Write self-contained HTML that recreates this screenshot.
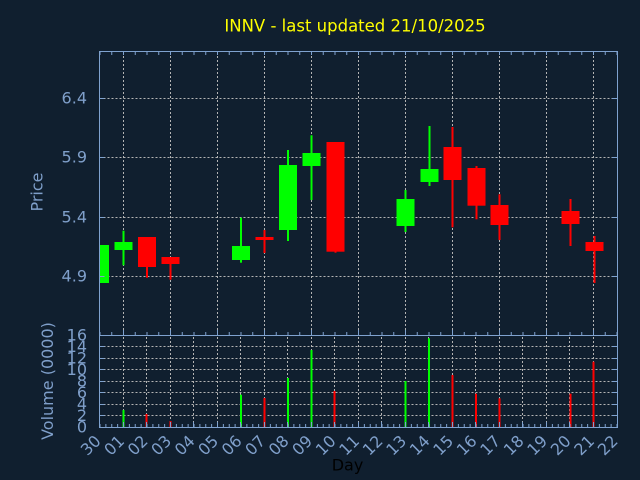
<!DOCTYPE html>
<html>
<head>
<meta charset="utf-8">
<style>
html,body{margin:0;padding:0;background:#101f2f;}
svg{display:block;}
text{font-family:"DejaVu Sans","Liberation Sans",sans-serif;}
</style>
</head>
<body>
<svg width="640" height="480" viewBox="0 0 640 480" xmlns="http://www.w3.org/2000/svg">
<rect x="0" y="0" width="640" height="480" fill="#101f2f"/>
<defs>
<clipPath id="pc"><rect x="99.5" y="51.5" width="518" height="284"/></clipPath>
</defs>

<!-- Title -->
<text x="355" y="31.5" font-size="16.5" fill="#ffff00" text-anchor="middle">INNV - last updated 21/10/2025</text>

<!-- Price grid -->
<g stroke="#b4b4b4" stroke-width="1" stroke-dasharray="2 2" fill="none">
<path d="M99.5 98.5H617M99.5 157.5H617M99.5 217.5H617M99.5 276.5H617"/>
<path d="M123.5 52V335M170.5 52V335M217.5 52V335M264.5 52V335M311.5 52V335M358.5 52V335M405.5 52V335M452.5 52V335M499.5 52V335M546.5 52V335M593.5 52V335"/>
</g>

<!-- Volume grid -->
<g stroke="#b4b4b4" stroke-width="1" stroke-dasharray="2 2" fill="none">
<path d="M99.5 346.5H617M99.5 358.5H617M99.5 369.5H617M99.5 381.5H617M99.5 392.5H617M99.5 404.5H617M99.5 415.5H617"/>
<path d="M123.5 337V427M146.5 337V427M170.5 337V427M193.5 337V427M217.5 337V427M240.5 337V427M264.5 337V427M287.5 337V427M311.5 337V427M334.5 337V427M358.5 337V427M381.5 337V427M405.5 337V427M428.5 337V427M452.5 337V427M475.5 337V427M499.5 337V427M522.5 337V427M546.5 337V427M569.5 337V427M593.5 337V427"/>
</g>

<!-- Candles -->
<g clip-path="url(#pc)">
<!-- 30 G -->
<rect x="91" y="245" width="18" height="38" fill="#00ff00"/>
<!-- 01 G -->
<rect x="122.5" y="230.7" width="2" height="34.6" fill="#00ff00"/>
<rect x="114.5" y="242" width="18" height="8" fill="#00ff00"/>
<!-- 02 R -->
<rect x="146" y="237" width="2" height="40.7" fill="#ff0000"/>
<rect x="138" y="237" width="18" height="30" fill="#ff0000"/>
<!-- 03 R -->
<rect x="169.5" y="257" width="2" height="22.7" fill="#ff0000"/>
<rect x="161.5" y="257" width="18" height="7" fill="#ff0000"/>
<!-- 06 G -->
<rect x="240" y="217.7" width="2" height="45" fill="#00ff00"/>
<rect x="232" y="246" width="18" height="14" fill="#00ff00"/>
<!-- 07 R -->
<rect x="263.5" y="230" width="2" height="23" fill="#ff0000"/>
<rect x="255.5" y="237" width="18" height="3" fill="#ff0000"/>
<!-- 08 G -->
<rect x="287" y="150" width="2" height="91" fill="#00ff00"/>
<rect x="279" y="165" width="18" height="65" fill="#00ff00"/>
<!-- 09 G -->
<rect x="310.5" y="135.3" width="2" height="64.7" fill="#00ff00"/>
<rect x="302.5" y="153" width="18" height="13" fill="#00ff00"/>
<!-- 10 R -->
<rect x="334.5" y="142" width="2" height="110.7" fill="#ff0000"/>
<rect x="326.5" y="142" width="18" height="109.7" fill="#ff0000"/>
<!-- 13 G -->
<rect x="404.5" y="190" width="2" height="42" fill="#00ff00"/>
<rect x="396.5" y="199" width="18" height="27" fill="#00ff00"/>
<!-- 14 G -->
<rect x="428.5" y="126" width="2" height="60" fill="#00ff00"/>
<rect x="420.5" y="169" width="18" height="13" fill="#00ff00"/>
<!-- 15 R -->
<rect x="451.5" y="127" width="2" height="100.3" fill="#ff0000"/>
<rect x="443.5" y="147" width="18" height="33" fill="#ff0000"/>
<!-- 16 R -->
<rect x="475.5" y="166" width="2" height="53.3" fill="#ff0000"/>
<rect x="467.5" y="168" width="18" height="37.7" fill="#ff0000"/>
<!-- 17 R -->
<rect x="498.5" y="194.3" width="2" height="45.7" fill="#ff0000"/>
<rect x="490.5" y="205" width="18" height="20" fill="#ff0000"/>
<!-- 20 R -->
<rect x="569.5" y="199" width="2" height="47" fill="#ff0000"/>
<rect x="561.5" y="211" width="18" height="13" fill="#ff0000"/>
<!-- 21 R -->
<rect x="593.5" y="236" width="2" height="47" fill="#ff0000"/>
<rect x="585.5" y="242" width="18" height="9" fill="#ff0000"/>
</g>

<!-- Volume bars -->
<g>
<rect x="122.5" y="410" width="2" height="17.3" fill="#00ff00"/>
<rect x="145.5" y="414" width="2" height="13.3" fill="#ff0000"/>
<rect x="169.5" y="421" width="2" height="6.3" fill="#ff0000"/>
<rect x="240" y="394.7" width="2" height="32.6" fill="#00ff00"/>
<rect x="263.5" y="398" width="2" height="29.3" fill="#ff0000"/>
<rect x="287" y="378" width="2" height="49.3" fill="#00ff00"/>
<rect x="310.5" y="350" width="2" height="77.3" fill="#00ff00"/>
<rect x="333.5" y="391" width="2" height="36.3" fill="#ff0000"/>
<rect x="404.5" y="381" width="2" height="46.3" fill="#00ff00"/>
<rect x="428" y="338.3" width="2" height="89" fill="#00ff00"/>
<rect x="451.5" y="375" width="2" height="52.3" fill="#ff0000"/>
<rect x="475" y="393.7" width="2" height="33.6" fill="#ff0000"/>
<rect x="498.5" y="398.3" width="2" height="29" fill="#ff0000"/>
<rect x="569.5" y="393.7" width="2" height="33.6" fill="#ff0000"/>
<rect x="592.5" y="361.7" width="2" height="65.6" fill="#ff0000"/>
</g>

<!-- Axes frames -->
<g stroke="#7fa2cf" stroke-width="1" fill="none">
<rect x="99.5" y="51.5" width="518" height="284"/>
<rect x="99.5" y="335.5" width="518" height="92"/>
<!-- price top ticks -->
<line x1="99.5" y1="53.5" x2="617" y2="53.5" stroke-width="3" stroke-dasharray="1 10.75"/>
<!-- price bottom ticks -->
<line x1="99.5" y1="333.5" x2="617" y2="333.5" stroke-width="3" stroke-dasharray="1 10.75"/>
<path d="M123.5 330V335M170.5 330V335M217.5 330V335M264.5 330V335M311.5 330V335M358.5 330V335M405.5 330V335M452.5 330V335M499.5 330V335M546.5 330V335M593.5 330V335"/>
<!-- price left/right ticks -->
<path d="M99.5 98.5h5M99.5 157.5h5M99.5 217.5h5M99.5 276.5h5M617 98.5h-5M617 157.5h-5M617 217.5h-5M617 276.5h-5"/>
<!-- volume left/right ticks -->
<path d="M99.5 346.5h5M99.5 358.5h5M99.5 369.5h5M99.5 381.5h5M99.5 392.5h5M99.5 404.5h5M99.5 415.5h5M617 346.5h-5M617 358.5h-5M617 369.5h-5M617 381.5h-5M617 392.5h-5M617 404.5h-5M617 415.5h-5"/>
<!-- volume bottom ticks -->
<line x1="99.5" y1="425.5" x2="617" y2="425.5" stroke-width="3" stroke-dasharray="1 4.875"/>
<path d="M123.5 422V427M146.5 422V427M170.5 422V427M193.5 422V427M217.5 422V427M240.5 422V427M264.5 422V427M287.5 422V427M311.5 422V427M334.5 422V427M358.5 422V427M381.5 422V427M405.5 422V427M428.5 422V427M452.5 422V427M475.5 422V427M499.5 422V427M522.5 422V427M546.5 422V427M569.5 422V427M593.5 422V427"/>
</g>

<!-- Price tick labels -->
<g font-size="16" fill="#7f9fca" text-anchor="end">
<text x="87" y="103.5">6.4</text>
<text x="87" y="162.5">5.9</text>
<text x="87" y="222.5">5.4</text>
<text x="87" y="281.5">4.9</text>
</g>

<!-- Volume tick labels -->
<g font-size="16" fill="#7f9fca" text-anchor="end">
<text x="87" y="340.5">16</text>
<text x="87" y="352">14</text>
<text x="87" y="363.5">12</text>
<text x="87" y="375">10</text>
<text x="87" y="386.5">8</text>
<text x="87" y="398">6</text>
<text x="87" y="409.5">4</text>
<text x="87" y="421">2</text>
<text x="87" y="432.5">0</text>
</g>

<!-- Axis titles -->
<text transform="translate(42.5,192) rotate(-90)" font-size="16" fill="#7f9fca" text-anchor="middle">Price</text>
<text transform="translate(53,381) rotate(-90)" font-size="16" fill="#7f9fca" text-anchor="middle">Volume (0000)</text>
<text x="347.5" y="470.5" font-size="16" fill="#000000" text-anchor="middle">Day</text>

<!-- X labels -->
<g font-size="16" fill="#7f9fca" text-anchor="end">
<text transform="translate(101.8,442) rotate(-45)">30</text>
<text transform="translate(125.3,442) rotate(-45)">01</text>
<text transform="translate(148.8,442) rotate(-45)">02</text>
<text transform="translate(172.3,442) rotate(-45)">03</text>
<text transform="translate(195.8,442) rotate(-45)">04</text>
<text transform="translate(219.3,442) rotate(-45)">05</text>
<text transform="translate(242.8,442) rotate(-45)">06</text>
<text transform="translate(266.3,442) rotate(-45)">07</text>
<text transform="translate(289.8,442) rotate(-45)">08</text>
<text transform="translate(313.3,442) rotate(-45)">09</text>
<text transform="translate(336.8,442) rotate(-45)">10</text>
<text transform="translate(360.3,442) rotate(-45)">11</text>
<text transform="translate(383.8,442) rotate(-45)">12</text>
<text transform="translate(407.3,442) rotate(-45)">13</text>
<text transform="translate(430.8,442) rotate(-45)">14</text>
<text transform="translate(454.3,442) rotate(-45)">15</text>
<text transform="translate(477.8,442) rotate(-45)">16</text>
<text transform="translate(501.3,442) rotate(-45)">17</text>
<text transform="translate(524.8,442) rotate(-45)">18</text>
<text transform="translate(548.3,442) rotate(-45)">19</text>
<text transform="translate(571.8,442) rotate(-45)">20</text>
<text transform="translate(595.3,442) rotate(-45)">21</text>
<text transform="translate(618.8,442) rotate(-45)">22</text>
</g>
</svg>
</body>
</html>
